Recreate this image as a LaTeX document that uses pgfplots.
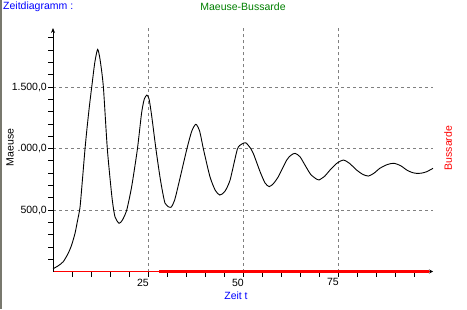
\documentclass[border=0pt]{standalone}
\usepackage{pgfplots}
\pgfplotsset{compat=1.18}
\usepackage{fontspec}
\setmainfont{Liberation Sans}
\usetikzlibrary{arrows.meta}
\definecolor{zgreen}{RGB}{0,128,0}
\definecolor{zgrid}{RGB}{128,128,128}
\definecolor{zbar}{RGB}{120,120,110}
\begin{document}
\begin{tikzpicture}[x=1bp,y=1bp]
\path[use as bounding box, fill=white] (0,0) rectangle (467,309);
\fill[zbar] (0,0) rectangle (2,309);
\begin{axis}[
  at={(53bp,37.5bp)}, anchor=south west,
  scale only axis, width=380bp, height=243.5bp,
  xmin=0, xmax=100, ymin=0, ymax=1980,
  enlargelimits=false, clip=false,
  axis lines=left,
  x axis line style={red, line width=0.8bp, -{Stealth[length=4bp,width=4bp,color=black]}},
  y axis line style={black, line width=0.8bp, -{Stealth[length=5bp,width=4bp]}},
  xtick={25,50,75}, xticklabels={25,50,75},
  minor xtick={5,10,15,20,30,35,40,45,55,60,65,70,80,85,90,95},
  ytick={500,1000,1500}, yticklabels={{500,0},{.000,0},{1.500,0}},
  minor ytick={100,200,300,400,600,700,800,900,1100,1200,1300,1400,1600,1700,1800,1900},
  tick align=outside, tick pos=left,
  major tick length=5bp, minor tick length=5bp,
  tick style={black, line width=0.8bp},
  grid=major,
  major grid style={zgrid, line width=0.8bp, dash pattern=on 3bp off 3bp},
  /pgf/number format/assume math mode=true,
  tick label style={font=\fontsize{10.5bp}{12bp}\selectfont, black},
  xticklabel style={anchor=north east, inner sep=0pt, yshift=-2bp, xshift=1bp},
  yticklabel style={anchor=east, inner sep=0pt, xshift=-1bp},
]
\addplot[black, line width=0.9bp, smooth, tension=0.4] coordinates {
(0,22) (1.4,47) (2.7,80) (4.0,148) (4.9,215) (5.8,311) (6.4,405) (7.1,520)
(7.7,730) (8.4,988) (8.9,1150) (9.6,1350) (10.2,1503)
(11.0,1700) (11.75,1806) (12.4,1720) (13.25,1503) (14.3,996) (15.5,608) (16.3,446)
(17.4,392) (18.3,420) (19.4,500) (20.7,690) (22.2,993) (23.3,1286) (24.0,1400)
(24.7,1435) (25.3,1400) (26.0,1258) (27.1,993) (28.3,740) (29.5,554) (31.0,522)
(32.0,580) (33.2,730) (35.2,993) (36.5,1140) (37.6,1197) (38.6,1140) (39.6,993)
(41.3,771) (42.7,660) (43.9,622) (45.2,650) (46.6,744) (48.5,993) (49.6,1035)
(50.7,1047) (51.8,1010) (52.7,961) (54.5,811) (55.8,720) (56.9,690) (58.0,715)
(59.3,771) (61.5,906) (62.6,945) (63.7,961) (65.0,933) (66.3,866) (67.8,790)
(69.4,750) (70.0,744) (71.5,775) (72.9,825) (74.7,880) (76.4,906) (78.0,880)
(79.9,825) (81.5,790) (83.0,776) (84.5,800) (86.0,839) (88.0,870) (89.7,880)
(91.5,860) (93.1,825) (94.5,805) (95.7,798) (97.0,800) (98.3,811) (100,839)
};
\addplot[red, line width=2.3bp, line cap=butt] coordinates {(28,0) (99,0)};
\end{axis}
\begin{scope}[font=\fontsize{10.5bp}{12bp}\selectfont]
\node[anchor=west, blue, inner sep=0pt] at (3,302.5) {Zeitdiagramm :};
\node[zgreen, inner sep=0pt] at (243,302.5) {Maeuse-Bussarde};
\node[blue, inner sep=0pt] at (236,13) {Zeit t};
\node[black, inner sep=0pt, rotate=90] at (10,161.5) {Maeuse};
\node[red, inner sep=0pt, rotate=90] at (448,161) {Bussarde};
\end{scope}
\end{tikzpicture}
\end{document}
